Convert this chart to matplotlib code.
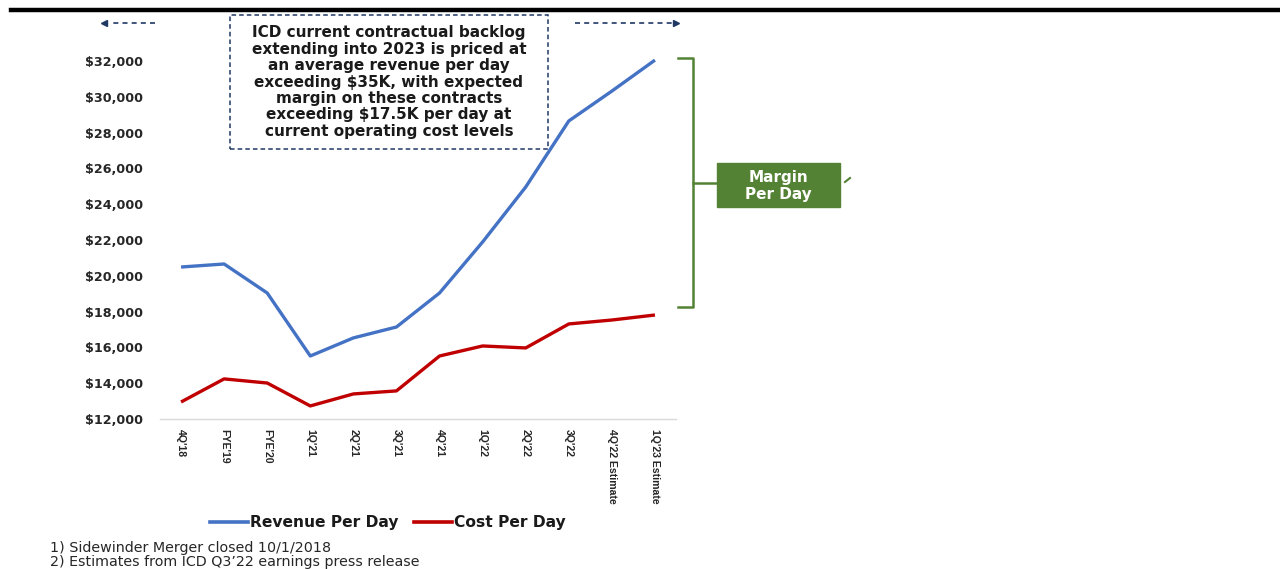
import matplotlib
matplotlib.use('Agg')
import matplotlib.pyplot as plt
from matplotlib.patches import Rectangle
from matplotlib.lines import Line2D
from matplotlib.ticker import FuncFormatter

periods = ["4Q'18", "FYE'19", "FYE'20", "1Q'21", "2Q'21", "3Q'21", "4Q'21",
           "1Q'22", "2Q'22", "3Q'22", "4Q'22 Estimate", "1Q'23 Estimate"]
revenue = [20490, 20660, 19040, 15520, 16530, 17140, 19040, 21890, 24960, 28650, 30320, 32050]
cost = [12950, 14240, 14010, 12730, 13400, 13570, 15520, 16080, 15970, 17310, 17530, 17810]

blue = '#4472C4'
red = '#C00000'
green = '#548235'
navy = '#1F3864'

W, H = 1280, 569
fig = plt.figure(figsize=(12.8, 5.69), dpi=100)


def fx(x):
    return x / W


def fy(y):
    return 1 - y / H


ax = fig.add_axes([fx(159.5), fy(419), fx(676.5) - fx(159.5), fy(61) - fy(419)])
x = range(len(periods))
ax.plot(x, revenue, color=blue, lw=2.4, clip_on=False, solid_capstyle='butt')
ax.plot(x, cost, color=red, lw=2.4, clip_on=False, solid_capstyle='butt')
ax.set_xlim(-0.5, len(periods) - 0.5)
ax.set_ylim(12000, 32000)
ax.set_yticks(range(12000, 32001, 2000))
ax.yaxis.set_major_formatter(FuncFormatter(lambda v, p: '${:,.0f}'.format(v)))
for s in ['top', 'right', 'left']:
    ax.spines[s].set_visible(False)
ax.spines['bottom'].set_color('#d9d9d9')
ax.spines['bottom'].set_linewidth(1)
ax.tick_params(axis='both', length=0)
ax.tick_params(axis='y', pad=12)
ax.tick_params(axis='x', pad=7)
for lab in ax.get_yticklabels():
    lab.set_fontweight('bold')
    lab.set_fontsize(9.2)
    lab.set_color('#262626')
ax.set_xticks(list(x))
ax.set_xticklabels(periods, rotation=270, va='top', ha='center',
                   family=['Liberation Sans', 'DejaVu Sans'],
                   fontweight='bold', fontsize=7.6, color='#262626')

# top rule
fig.add_artist(Line2D([fx(11), fx(1280)], [fy(10), fy(10)], color='black', lw=3.2))

# dashed text box
fig.add_artist(Rectangle((fx(230), fy(149)), fx(548) - fx(230), fy(15) - fy(149),
                         fill=False, ec=navy, ls=(0, (3, 2)), lw=1.1,
                         transform=fig.transFigure))
fig.text(fx(389), fy(82), "ICD current contractual backlog\nextending into 2023 is priced at\n"
         "an average revenue per day\nexceeding $35K, with expected\n"
         "margin on these contracts\nexceeding $17.5K per day at\ncurrent operating cost levels",
         ha='center', va='center', fontsize=11, fontweight='bold', linespacing=1.12,
         color='#1a1a1a')

# dashed arrows
fig.add_artist(Line2D([fx(155), fx(112)], [fy(23), fy(23)], color=navy, lw=1.2, ls=(0, (3, 2.5))))
fig.add_artist(Line2D([fx(575), fx(672)], [fy(23), fy(23)], color=navy, lw=1.2, ls=(0, (3, 2.5))))
fig.add_artist(Line2D([fx(104)], [fy(23)], marker='<', ms=5, color=navy, lw=0))
fig.add_artist(Line2D([fx(676)], [fy(23)], marker='>', ms=5, color=navy, lw=0))

# bracket
fig.add_artist(Line2D([fx(678), fx(693), fx(693), fx(678)],
                      [fy(58), fy(58), fy(307), fy(307)], color=green, lw=1.8))
fig.add_artist(Line2D([fx(693), fx(717)], [fy(183), fy(183)], color=green, lw=1.8))
fig.add_artist(Rectangle((fx(717), fy(207)), fx(840) - fx(717), fy(163) - fy(207),
                         fc=green, ec=green, transform=fig.transFigure))
fig.text(fx(778.5), fy(186), "Margin\nPer Day", ha='center', va='center', color='white',
         fontsize=11, fontweight='bold', linespacing=1.15)
fig.add_artist(Line2D([fx(845), fx(850)], [fy(182), fy(178)], color=green, lw=1.5))

# legend
fig.add_artist(Line2D([fx(210), fx(248)], [fy(522), fy(522)], color=blue, lw=2.6))
fig.text(fx(250), fy(522), "Revenue Per Day", ha='left', va='center',
         fontsize=11.2, fontweight='bold', color='#1a1a1a')
fig.add_artist(Line2D([fx(414), fx(452)], [fy(522), fy(522)], color=red, lw=2.6))
fig.text(fx(454), fy(522), "Cost Per Day", ha='left', va='center',
         fontsize=11.2, fontweight='bold', color='#1a1a1a')

# footnotes
fig.text(fx(50), fy(548), "1) Sidewinder Merger closed 10/1/2018", ha='left', va='center',
         fontsize=10.3, color='#262626')
fig.text(fx(50), fy(562), "2) Estimates from ICD Q3\u201922 earnings press release", ha='left',
         va='center', fontsize=10.3, color='#262626')

fig.savefig('out.png', dpi=100)
